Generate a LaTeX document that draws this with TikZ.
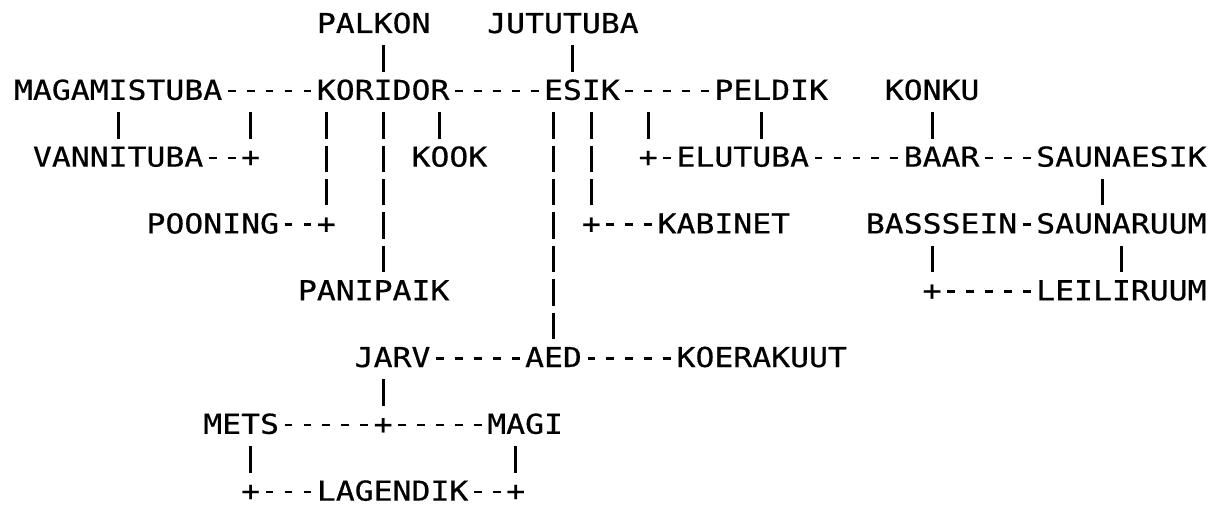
\documentclass[tikz,border=0pt]{standalone}
\usepackage{fontspec}
\newfontfamily\asciifont[FakeStretch=1.1475, FakeBold=0.6]{DejaVu Sans Mono}
\tikzset{
  room/.style={anchor=base west, inner sep=0pt, outer sep=0pt, font=\asciifont\fontsize{27.4pt}{33.4pt}\selectfont},
  hbar/.style={line width=2.6pt, dash pattern=on 7.8pt off 11.13pt, dash phase=13.33pt, transform canvas={yshift=8.7pt}},
  vbar/.style={line width=2.9pt, dash pattern=on 26.5pt off 6.9pt, shorten <=12.4pt, shorten >=27.9pt}
}

\begin{document}
\begin{tikzpicture}[x=18.93pt, y=-33.4pt]
  \useasboundingbox (-14pt,33pt) rectangle (1196pt,-472pt);
  \node[room] (palkon)      at (16,0)  {PALKON};
  \node[room] (jututuba)    at (25,0)  {JUTUTUBA};
  \node[room] (magamistuba) at (0,2)   {MAGAMISTUBA};
  \node[room] (koridor)     at (16,2)  {KORIDOR};
  \node[room] (esik)        at (28,2)  {ESIK};
  \node[room] (peldik)      at (37,2)  {PELDIK};
  \node[room] (konku)       at (46,2)  {KONKU};
  \node[room] (vannituba)   at (1,4)   {VANNITUBA};
  \node[room] (plusvan)     at (12,4)  {+};
  \node[room] (kook)        at (21,4)  {KOOK};
  \node[room] (plusel)      at (33,4)  {+};
  \node[room] (elutuba)     at (35,4)  {ELUTUBA};
  \node[room] (baar)        at (47,4)  {BAAR};
  \node[room] (saunaesik)   at (54,4)  {SAUNAESIK};
  \node[room] (pooning)     at (7,6)   {POONING};
  \node[room] (pluspoo)     at (16,6)  {+};
  \node[room] (pluskab)     at (30,6)  {+};
  \node[room] (kabinet)     at (34,6)  {KABINET};
  \node[room] (bassein)     at (45,6)  {BASSSEIN};
  \node[room] (saunaruum)   at (54,6)  {SAUNARUUM};
  \node[room] (panipaik)    at (15,8)  {PANIPAIK};
  \node[room] (plusleil)    at (48,8)  {+};
  \node[room] (leiliruum)   at (54,8)  {LEILIRUUM};
  \node[room] (jarv)        at (18,10) {JARV};
  \node[room] (aed)         at (27,10) {AED};
  \node[room] (koerakuut)   at (35,10) {KOERAKUUT};
  \node[room] (mets)        at (10,12) {METS};
  \node[room] (plusmets)    at (19,12) {+};
  \node[room] (magi)        at (25,12) {MAGI};
  \node[room] (pluslag)     at (12,14) {+};
  \node[room] (lagendik)    at (16,14) {LAGENDIK};
  \node[room] (plusmagi)    at (26,14) {+};
  \coordinate (magkor) at (12.5,2);
  \coordinate (esikpel) at (33.5,2);

  \draw[hbar] (magamistuba.base east) -- (koridor.base west);
  \draw[hbar] (koridor.base east) -- (esik.base west);
  \draw[hbar] (esik.base east) -- (peldik.base west);
  \draw[hbar] (vannituba.base east) -- (plusvan.base west);
  \draw[hbar] (plusel.base east) -- (elutuba.base west);
  \draw[hbar] (elutuba.base east) -- (baar.base west);
  \draw[hbar] (baar.base east) -- (saunaesik.base west);
  \draw[hbar] (pooning.base east) -- (pluspoo.base west);
  \draw[hbar] (pluskab.base east) -- (kabinet.base west);
  \draw[hbar] (bassein.base east) -- (saunaruum.base west);
  \draw[hbar] (plusleil.base east) -- (leiliruum.base west);
  \draw[hbar] (jarv.base east) -- (aed.base west);
  \draw[hbar] (aed.base east) -- (koerakuut.base west);
  \draw[hbar] (mets.base east) -- (plusmets.base west);
  \draw[hbar] (plusmets.base east) -- (magi.base west);
  \draw[hbar] (pluslag.base east) -- (lagendik.base west);
  \draw[hbar] (lagendik.base east) -- (plusmagi.base west);

  \draw[vbar] (19.5,0 |- palkon.base) -- (19.5,0 |- koridor.base);
  \draw[vbar] (29.5,0 |- jututuba.base) -- (29.5,0 |- esik.base);
  \draw[vbar] (5.5,0 |- magamistuba.base) -- (5.5,0 |- vannituba.base);
  \draw[vbar] (magkor) -- (magkor |- plusvan.base);
  \draw[vbar] (16.5,0 |- koridor.base) -- (16.5,0 |- pluspoo.base);
  \draw[vbar] (19.5,0 |- koridor.base) -- (19.5,0 |- panipaik.base);
  \draw[vbar] (22.5,0 |- koridor.base) -- (22.5,0 |- kook.base);
  \draw[vbar] (28.5,0 |- esik.base) -- (28.5,0 |- aed.base);
  \draw[vbar] (30.5,0 |- esik.base) -- (30.5,0 |- pluskab.base);
  \draw[vbar] (esikpel) -- (esikpel |- plusel.base);
  \draw[vbar] (39.5,0 |- peldik.base) -- (39.5,0 |- elutuba.base);
  \draw[vbar] (48.5,0 |- konku.base) -- (48.5,0 |- baar.base);
  \draw[vbar] (57.5,0 |- saunaesik.base) -- (57.5,0 |- saunaruum.base);
  \draw[vbar] (48.5,0 |- bassein.base) -- (48.5,0 |- plusleil.base);
  \draw[vbar] (58.5,0 |- saunaruum.base) -- (58.5,0 |- leiliruum.base);
  \draw[vbar] (19.5,0 |- jarv.base) -- (19.5,0 |- plusmets.base);
  \draw[vbar] (12.5,0 |- mets.base) -- (12.5,0 |- pluslag.base);
  \draw[vbar] (26.5,0 |- magi.base) -- (26.5,0 |- plusmagi.base);
\end{tikzpicture}
\end{document}
